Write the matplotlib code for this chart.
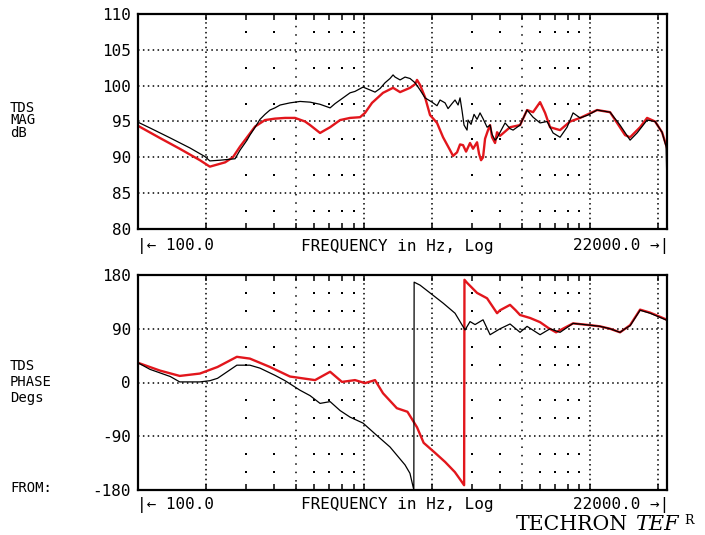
import matplotlib.pyplot as plt
from matplotlib.ticker import FixedLocator, NullFormatter

# TDS magnitude sweep (dB) - black trace
mag_freq_black = [100, 113, 139, 170, 198, 208, 231, 269, 283, 304, 313, 330, 347, 365,
                  384, 404, 426, 471, 522, 578, 640, 709, 746, 785, 869, 914, 992, 1065,
                  1121, 1180, 1241, 1306, 1347, 1375, 1447, 1522, 1602, 1686, 1774, 1866,
                  2004, 2109, 2175, 2289, 2360, 2458, 2534, 2614, 2667, 2722, 2778, 2864,
                  2893, 2984, 3076, 3172, 3270, 3372, 3442, 3513, 3623, 3697, 3811, 3890,
                  4011, 4221, 4441, 4580, 4918, 5282, 5615, 6031, 6477, 6886, 7394, 7942,
                  8443, 9069, 9838, 10784, 12310, 13630, 15100, 16220, 17960, 19480,
                  20920, 21800, 22000]
mag_black = [94.9, 94.1, 92.7, 91.3, 90.1, 89.5, 89.6, 89.8, 91.0, 92.4, 93.1, 94.2, 95.3,
             96.0, 96.6, 96.9, 97.3, 97.6, 97.8, 97.7, 97.4, 96.9, 97.5, 98.0, 99.0, 99.2,
             99.8, 99.4, 99.1, 99.6, 100.4, 101.0, 101.5, 101.2, 100.8, 101.2, 101.0,
             100.4, 99.4, 98.3, 97.7, 97.2, 98.0, 97.6, 96.8, 97.5, 98.0, 97.3, 98.3,
             96.5, 94.5, 93.8, 95.2, 94.6, 96.0, 95.3, 96.2, 95.4, 94.8, 94.2, 94.5,
             93.2, 92.4, 92.7, 93.5, 94.8, 94.0, 93.8, 94.5, 96.6, 95.6, 94.8, 95.0, 93.4,
             92.8, 94.2, 96.2, 95.5, 95.9, 96.6, 96.3, 94.5, 92.4, 93.4, 95.2, 95.0, 93.5,
             91.5, 86.0]

# TDS magnitude sweep (dB) - red trace
mag_freq_red = [100, 125, 153, 188, 208, 219, 243, 263, 283, 304, 330, 365, 404, 448, 496,
                549, 578, 640, 673, 709, 785, 869, 962, 1012, 1087, 1216, 1347, 1447, 1602,
                1686, 1720, 1774, 1866, 1964, 2109, 2243, 2409, 2483, 2587, 2667, 2750,
                2836, 2953, 3045, 3172, 3237, 3304, 3372, 3442, 3548, 3623, 3697, 3811,
                3890, 4011, 4441, 4918, 5282, 5615, 6031, 6347, 6678, 7394, 8189, 9069,
                10784, 12310, 14350, 15100, 16720, 17960, 19480, 20920, 22000]
mag_red = [94.4, 92.7, 91.2, 89.6, 88.7, 88.9, 89.3, 90.0, 91.5, 92.8, 94.3, 95.2, 95.4,
           95.5, 95.5, 95.0, 94.5, 93.4, 93.8, 94.2, 95.2, 95.5, 95.6, 96.2, 97.6, 99.0,
           99.7, 99.1, 99.7, 100.2, 100.8, 100.1, 98.4, 95.9, 94.8, 92.8, 91.0, 90.2,
           90.7, 91.8, 91.7, 90.8, 92.0, 91.2, 92.1, 90.5, 89.6, 90.0, 92.6, 93.8, 94.5,
           92.8, 92.0, 93.5, 93.0, 94.2, 94.5, 96.6, 96.3, 97.7, 96.2, 94.2, 93.8, 95.0,
           95.5, 96.6, 96.3, 93.1, 92.8, 94.2, 95.5, 95.0, 93.5, 91.3]

# TDS phase sweep (degrees) - black trace
phase_freq_black = [100, 113, 139, 153, 188, 208, 225, 274, 313, 347, 404, 448, 522, 578,
                    640, 709, 785, 869, 992, 1121, 1306, 1522, 1600, 1665, 1670, 1774,
                    1964, 2243, 2534, 2807, 2953, 3108, 3372, 3623, 4011, 4441, 4918, 5282,
                    6031, 6678, 7394, 8443, 10041, 11120, 12310, 13630, 14350, 15100,
                    16720, 18510, 20500, 22000]
phase_black = [33, 22, 10, 1, 1, 3, 7, 29, 29, 24, 12, 3, -13, -22, -35, -32, -47, -58, -68,
               -86, -108, -138, -152, -180, 168, 163, 150, 133, 116, 88, 102, 97, 105, 80,
               90, 98, 84, 94, 80, 90, 84, 99, 96, 94, 90, 84, 90, 95, 121, 116, 109, 104]

# TDS phase sweep (degrees) - red trace
phase_freq_red = [100, 125, 153, 188, 225, 274, 313, 384, 471, 608, 709, 800, 914, 1012,
                  1121, 1216, 1400, 1560, 1720, 1840, 2070, 2290, 2530, 2700, 2780, 2790,
                  2864, 3172, 3513, 3890, 4011, 4441, 4700, 4918, 5450, 6031, 6580, 7100,
                  8443, 10041, 11120, 12310, 13630, 14350, 15100, 16720, 18510, 20500,
                  22000]
phase_red = [33, 20, 11, 15, 26, 43, 40, 26, 10, 4, 18, 1, 4, -1, 4, -18, -43, -49, -75,
             -101, -118, -133, -150, -165, -172, 172, 167, 150, 141, 116, 121, 130, 121, 113,
             108, 101, 91, 84, 99, 96, 94, 90, 84, 90, 96, 122, 117, 110, 105]

mag_ticks = [80, 85, 90, 95, 100, 105, 110]
mag_dots = [82.5, 87.5, 92.5, 97.5, 102.5, 107.5]
phase_ticks = [-180, -90, 0, 90, 180]
phase_dots = [-150, -120, -60, -30, 30, 60, 120, 150]

grid_freqs = [200, 1000, 2000, 10000, 20000]
sparse_freqs = [500, 5000]
dot_freqs = [300, 400, 600, 700, 800, 900, 3000, 4000, 6000, 7000, 8000, 9000]
edge_ticks = [200, 300, 400, 500, 600, 700, 800, 900, 1000, 2000, 3000, 4000, 5000,
              6000, 7000, 8000, 9000, 10000, 20000]

W, H = 705, 535
mono = ['DejaVu Sans Mono', 'DejaVu Sans']
red = '#e2161c'

fig = plt.figure(figsize=(W / 100, H / 100), dpi=100)


def put(x, y, s, **kw):
    kw.setdefault('family', mono)
    kw.setdefault('fontsize', 11.5)
    fig.text(x / W, 1 - y / H, s, **kw)


def make_axes(top, bottom, ticks, dots):
    ax = fig.add_axes([138 / W, 1 - bottom / H, 529 / W, (bottom - top) / H])
    ax.set_xscale('log')
    ax.set_xlim(100, 22000)
    ax.set_ylim(ticks[0], ticks[-1])

    for f in grid_freqs:
        ax.axvline(f, color='k', lw=1.1, ls=(0, (1, 2.2)), zorder=1)
    for f in sparse_freqs:
        ax.axvline(f, color='k', lw=1.1, ls=(0, (1, 4.5)), zorder=1)
    for t in ticks[1:-1]:
        ax.axhline(t, color='k', lw=1.1, ls=(0, (1, 2.2)), zorder=1)
    xs = [f for f in dot_freqs for _ in dots]
    ys = [d for _ in dot_freqs for d in dots]
    ax.scatter(xs, ys, s=2.5, c='k', marker='s', lw=0, zorder=1)

    ax.xaxis.set_major_locator(FixedLocator([]))
    ax.xaxis.set_minor_locator(FixedLocator(edge_ticks))
    ax.xaxis.set_minor_formatter(NullFormatter())
    ax.tick_params(axis='x', which='minor', direction='in', length=4, width=1.1,
                   top=True, bottom=True)
    ax.set_yticks(ticks)
    ax.set_yticklabels([str(t) for t in ticks], family=mono, fontsize=11.5)
    ax.tick_params(axis='y', length=0, pad=5)
    for sp in ax.spines.values():
        sp.set_linewidth(1.6)
    return ax


ax1 = make_axes(14, 229, mag_ticks, mag_dots)
ax1.plot(mag_freq_black, mag_black, color='k', lw=0.9, zorder=3)
ax1.plot(mag_freq_red, mag_red, color=red, lw=1.7, zorder=2)

ax2 = make_axes(275, 490, phase_ticks, phase_dots)
ax2.plot(phase_freq_black, phase_black, color='k', lw=0.9, zorder=3)
ax2.plot(phase_freq_red, phase_red, color=red, lw=1.7, zorder=2)

# axis captions
put(10, 101, 'TDS\nMAG\ndB', fontsize=10, va='top', linespacing=0.85)
put(10, 359, 'TDS\nPHASE\nDegs', fontsize=10, va='top', linespacing=1.2)
put(10, 488, 'FROM:', fontsize=10, va='center')
for y in (246, 505):
    put(137, y, '|\u2190 100.0', va='center')
    put(397, y, 'FREQUENCY in Hz, Log', va='center', ha='center')
    put(669, y, '22000.0 \u2192|', va='center', ha='right')

put(516, 524, 'TECHRON', family='DejaVu Serif', fontsize=14.8, va='center')
put(635, 524, 'TEF', family='DejaVu Serif', style='italic', fontsize=15, va='center')
put(684, 520, 'R', family='DejaVu Serif', fontsize=9, va='center')

fig.savefig('out.png', dpi=100)
